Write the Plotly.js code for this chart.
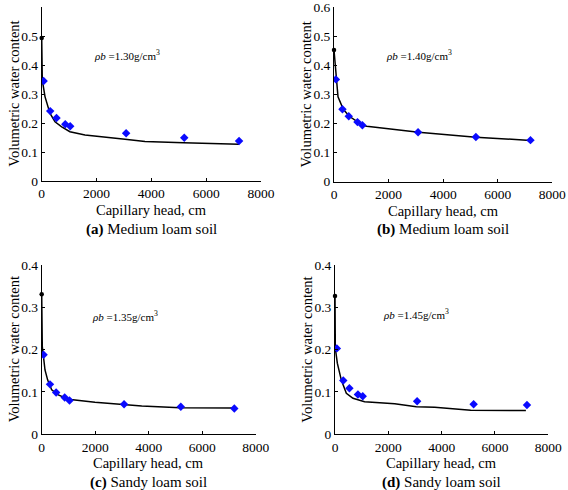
<!DOCTYPE html>
<html>
<head>
<meta charset="utf-8">
<script src="https://cdn.plot.ly/plotly-3.0.1.min.js"></script>
<style>html,body{margin:0;padding:0;background:#fff}#chart{width:568px;height:490px}</style>
</head>
<body>
<div id="chart"></div>
<script>
// Measured points (capillary head, cm)
var headMeasured = [70, 310, 540, 860, 1040, 3080, 5200, 7200];
var satA = 0.493, satB = 0.453, satC = 0.331, satD = 0.327;
var measA = [0.345, 0.241, 0.217, 0.196, 0.189, 0.165, 0.149, 0.138];
var measB = [0.352, 0.249, 0.225, 0.205, 0.194, 0.170, 0.154, 0.143];
var measC = [0.188, 0.118, 0.099, 0.087, 0.080, 0.071, 0.065, 0.061];
var measD = [0.203, 0.127, 0.109, 0.094, 0.090, 0.078, 0.071, 0.069];

// Fitted curves
var fitAx = [0, 22, 120, 300, 485, 730, 1030, 1580, 3040, 3770, 5170, 7120, 7200];
var fitAy = [0.493, 0.348, 0.291, 0.234, 0.204, 0.187, 0.170, 0.159, 0.144, 0.136, 0.132, 0.128, 0.127];
var fitBx = [0, 85, 147, 340, 560, 880, 1060, 1200, 3100, 5200, 7200];
var fitBy = [0.453, 0.352, 0.292, 0.249, 0.225, 0.205, 0.194, 0.191, 0.170, 0.153, 0.142];
var fitCx = [0, 0, 22, 60, 123, 224, 374, 620, 995, 1990, 3050, 3740, 5170, 7200];
var fitCy = [0.331, 0.246, 0.207, 0.187, 0.152, 0.128, 0.105, 0.093, 0.083, 0.076, 0.071, 0.067, 0.063, 0.062];
var fitDx = [0, 0, 12, 87, 237, 425, 675, 1110, 1610, 2240, 3050, 3740, 5090, 7160];
var fitDy = [0.327, 0.247, 0.203, 0.168, 0.128, 0.097, 0.085, 0.077, 0.075, 0.072, 0.065, 0.064, 0.057, 0.056];

var densityLabels = ['1.30', '1.40', '1.35', '1.45'];
var panelLetters = ['(a)', '(b)', '(c)', '(d)'];
var soilNames = ['Medium loam soil', 'Medium loam soil', 'Sandy loam soil', 'Sandy loam soil'];
var xTicks = [0, 2000, 4000, 6000, 8000];
var yTicksTop = [0, 0.1, 0.2, 0.3, 0.4, 0.5, 0.6];
var yTicksBottom = [0, 0.1, 0.2, 0.3, 0.4];

var W = 568, H = 490;
var FONT = '"Liberation Serif", "Times New Roman", Times, serif';
// pixel boxes of plot areas [left, right, top, bottom]
var boxes = [[41.7, 261, 7, 181], [334, 552.3, 7.3, 181.7], [41.7, 255.7, 265, 434.3], [335, 548.3, 265, 434.3]];
var densityPos = [[92.3, 55], [384, 55], [90, 316], [380.7, 314]];

var sats = [satA, satB, satC, satD];
var meas = [measA, measB, measC, measD];
var fitX = [fitAx, fitBx, fitCx, fitDx];
var fitY = [fitAy, fitBy, fitCy, fitDy];

var traces = [];
var layout = {
  width: W, height: H,
  margin: {l: 0, r: 0, t: 0, b: 0},
  paper_bgcolor: '#fff', plot_bgcolor: '#fff',
  showlegend: false,
  font: {family: FONT, color: '#000', size: 13.5},
  annotations: []
};

for (var i = 0; i < 4; i++) {
  var sfx = i === 0 ? '' : String(i + 1);
  var xa = 'x' + sfx, ya = 'y' + sfx;
  var b = boxes[i];
  traces.push({x: fitX[i], y: fitY[i], xaxis: xa, yaxis: ya, mode: 'lines', type: 'scatter',
    line: {color: '#000', width: 1.5}, hoverinfo: 'skip'});
  traces.push({x: headMeasured, y: meas[i], xaxis: xa, yaxis: ya, mode: 'markers', type: 'scatter',
    marker: {symbol: 'diamond', size: 6.5, color: '#0a0aff'}});
  traces.push({x: [0], y: [sats[i]], xaxis: xa, yaxis: ya, mode: 'markers', type: 'scatter',
    marker: {symbol: 'circle', size: 4.5, color: '#000'}, cliponaxis: false});
  var isTop = i < 2;
  var axStyle = {showline: true, linecolor: '#000', linewidth: 1, showgrid: false, zeroline: false,
    ticks: 'inside', ticklen: 3, tickwidth: 1, tickcolor: '#000', mirror: false,
    tickfont: {family: FONT, size: 13.5, color: '#000'}};
  layout['xaxis' + sfx] = Object.assign({}, axStyle, {
    domain: [b[0] / W, b[1] / W], anchor: ya, range: [0, 8000],
    tickmode: 'array', tickvals: xTicks, ticktext: xTicks.map(String)});
  var yt = isTop ? yTicksTop : yTicksBottom;
  layout['yaxis' + sfx] = Object.assign({}, axStyle, {
    domain: [1 - b[3] / H, 1 - b[2] / H], anchor: xa, range: [0, isTop ? 0.6 : 0.4],
    tickmode: 'array', tickvals: yt, ticktext: yt.map(function (v) { return v === 0 ? '0' : v.toFixed(1); })});

  // axis titles
  layout.annotations.push({xref: 'paper', yref: 'paper', x: (b[0] - 28) / W, y: 1 - (b[2] + b[3]) / 2 / H,
    text: 'Volumetric water content', showarrow: false, textangle: -90,
    font: {family: FONT, size: 14.5, color: '#000'}, xanchor: 'center', yanchor: 'middle'});
  layout.annotations.push({xref: 'paper', yref: 'paper', x: (b[0] + b[1]) / 2 / W, y: 1 - (b[3] + 29) / H,
    text: 'Capillary head, cm', showarrow: false,
    font: {family: FONT, size: 14.5, color: '#000'}, xanchor: 'center', yanchor: 'middle'});
  layout.annotations.push({xref: 'paper', yref: 'paper', x: (b[0] + b[1]) / 2 / W, y: 1 - (b[3] + 48) / H,
    text: '<b>' + panelLetters[i] + '</b> ' + soilNames[i], showarrow: false,
    font: {family: FONT, size: 15, color: '#000'}, xanchor: 'center', yanchor: 'middle'});
  // density label
  layout.annotations.push({xref: 'paper', yref: 'paper', x: densityPos[i][0] / W, y: 1 - densityPos[i][1] / H,
    text: '<i>ρb</i> =' + densityLabels[i] + 'g/cm<sup>3</sup>', showarrow: false,
    font: {family: FONT, size: 11, color: '#000'}, xanchor: 'left', yanchor: 'middle'});
}

Plotly.newPlot('chart', traces, layout, {displayModeBar: false, staticPlot: true});
</script>
</body>
</html>
